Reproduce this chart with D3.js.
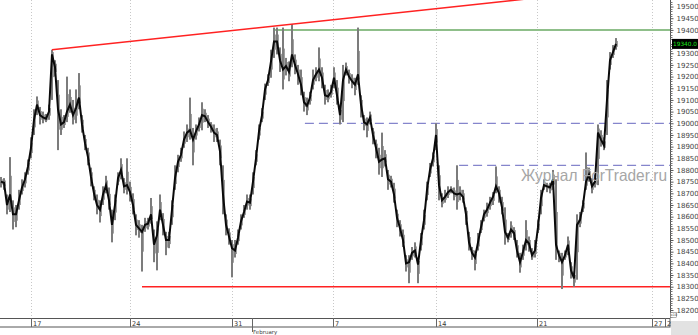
<!DOCTYPE html>
<html>
<head>
<meta charset="utf-8">
<script src="https://cdn.jsdelivr.net/npm/d3@7/dist/d3.min.js"></script>
<style>
  body { margin: 0; background: #fff; }
  svg { display: block; font-family: "DejaVu Sans", sans-serif; }
</style>
</head>
<body>
<svg id="chart" width="698" height="335"></svg>
<script>
// price bars (high / close / low), one bar per slot
const barHigh = [
  18770,18765,18695,18855,18670,18650,18715,18760,18790,18845,18940,19060,19115,19070,19050,19040,19080,19315,19270,19185,
  19060,19035,19200,19145,19100,19145,19215,19035,18950,18895,18810,18730,18695,18670,18730,18775,18725,18630,18695,18790,
  18850,18765,18850,18750,18700,18610,18585,18565,18595,18595,18680,18545,18580,18695,18615,18535,18535,18670,18820,18865,
  18895,18965,18995,19110,18980,18995,19025,19090,19060,19035,19005,18995,18980,18930,18820,18610,18550,18500,18500,18545,
  18610,18650,18695,18695,18790,18885,18995,19065,19170,19210,19315,19410,19410,19325,19410,19280,19265,19425,19295,19250,
  19230,19135,19110,19135,19230,19240,19325,19240,19165,19145,19165,19240,19185,19080,19250,19260,19230,19210,19195,19410,
  19120,19035,19025,19050,18980,18930,18895,18960,18885,18800,18775,18745,18630,18585,18545,18435,18435,18470,18490,18425,
  18530,18630,18750,18830,18875,19000,18820,18700,18715,18730,18730,18725,18820,18730,18715,18640,18535,18470,18455,18530,
  18585,18630,18660,18685,18705,18815,18730,18685,18640,18530,18580,18555,18500,18445,18480,18585,18515,18465,18500,18585,
  18715,18760,18745,18745,18800,18760,18455,18445,18455,18515,18405,18365,18610,18620,18670,18875,18810,18765,18780,18995,
  18970,18940,19185,19305,19335,19365
];
const barClose = [
  18750,18745,18650,18695,18610,18610,18670,18725,18760,18815,18895,19015,19080,19035,19025,19020,19050,19295,19240,19060,
  18995,19005,19050,19080,19035,19065,19110,18995,18915,18855,18770,18700,18650,18630,18695,18735,18670,18565,18650,18765,
  18800,18730,18735,18705,18650,18565,18550,18535,18565,18570,18610,18480,18520,18630,18565,18500,18500,18630,18765,18835,
  18865,18930,18960,18970,18930,18965,18995,19035,19030,19005,18985,18960,18950,18880,18695,18565,18515,18465,18455,18510,
  18580,18620,18665,18660,18750,18850,18965,19035,19145,19185,19265,19350,19350,19270,19230,19245,19220,19295,19250,19210,
  19165,19090,19075,19110,19185,19210,19230,19195,19120,19115,19135,19195,19120,19035,19185,19230,19200,19180,19165,19210,
  19080,19005,18995,19025,18950,18895,18835,18845,18850,18760,18750,18695,18595,18550,18500,18400,18405,18445,18455,18395,
  18500,18585,18715,18800,18850,18950,18735,18670,18685,18705,18715,18700,18695,18700,18685,18610,18490,18445,18425,18490,
  18555,18610,18630,18660,18685,18730,18700,18640,18535,18510,18545,18530,18455,18405,18450,18500,18485,18435,18455,18555,
  18680,18735,18730,18725,18760,18480,18435,18405,18435,18480,18370,18335,18565,18585,18650,18750,18780,18730,18750,18960,
  18930,18905,19100,19270,19305,19340
];
const barLow = [
  18725,18715,18610,18620,18545,18555,18630,18695,18725,18780,18850,18950,19035,18995,19000,19005,19015,19100,19200,18885,
  18950,18980,19005,19045,18995,19000,19060,18960,18885,18820,18730,18670,18610,18575,18650,18700,18630,18490,18585,18735,
  18760,18700,18695,18665,18610,18520,18510,18365,18535,18545,18570,18405,18370,18585,18520,18435,18465,18565,18715,18790,
  18835,18895,18920,18930,18820,18930,18965,18970,19005,18980,18960,18920,18920,18820,18610,18520,18480,18340,18425,18480,
  18545,18595,18630,18630,18695,18820,18930,19005,19100,19160,19195,19280,19295,19220,19145,19205,19180,19240,19210,19165,
  19120,19050,19035,19080,19145,19180,19180,19150,19080,19090,19110,19150,19080,18995,19005,19205,19170,19150,19120,19165,
  19025,18970,18940,18995,18910,18850,18780,18770,18815,18715,18725,18660,18555,18515,18470,18365,18315,18415,18425,18315,
  18455,18545,18670,18770,18815,18885,18670,18640,18660,18680,18700,18670,18630,18670,18660,18565,18455,18415,18370,18455,
  18530,18580,18600,18630,18650,18700,18660,18610,18480,18490,18510,18500,18425,18360,18415,18455,18450,18415,18425,18530,
  18610,18715,18705,18700,18715,18415,18405,18290,18415,18435,18335,18300,18330,18555,18620,18715,18750,18700,18725,18735,
  18900,18885,18950,19230,19280,19315
];

// time axis
const weekTickBars = [9.9, 43, 77.1, 110.8, 144.9, 178.6, 217, 221.3];
const weekTickLabels = ['17', '24', '31', '7', '14', '21', '27', '2'];
const monthTickBars = [83.8];
const monthTickLabels = ['February'];

// price axis
const priceTicks = d3.range(18200, 19501, 50);
const lastPrice = 19340;

// drawn levels: [price, start bar]
const supportLevel = [18300, 47];
const greenLevel = [19400, 91.3];
const dashedLevels = [[19000, 101.3], [18820, 152.7]];
// trend line through two highs: [bar, price]
const trendPoints = [[17, 19315], [97, 19425]];

const W = 698, H = 335;
const plotRight = 670, plotBottom = 318;

const svg = d3.select('#chart');

const x = d3.scaleLinear().domain([0, 223]).range([1, plotRight]);
const y = d3.scaleLinear().domain([18300, 19400]).range([286.7, 29.9]);

svg.append('defs').append('clipPath').attr('id', 'plot')
  .append('rect').attr('x', 0).attr('y', 0).attr('width', plotRight).attr('height', plotBottom);

const plot = svg.append('g').attr('clip-path', 'url(#plot)');

// vertical dotted grid
plot.selectAll('.grid')
  .data(weekTickBars.slice(0, 7))
  .enter().append('line')
  .attr('x1', d => Math.round(x(d)) + 0.5).attr('x2', d => Math.round(x(d)) + 0.5)
  .attr('y1', 0).attr('y2', plotBottom)
  .attr('stroke', '#c8c8c8').attr('stroke-dasharray', '1,2');

// levels
plot.append('line')
  .attr('x1', x(greenLevel[1])).attr('x2', plotRight)
  .attr('y1', y(greenLevel[0])).attr('y2', y(greenLevel[0]))
  .attr('stroke', '#8fbf8a').attr('stroke-width', 2);

plot.selectAll('.dash')
  .data(dashedLevels)
  .enter().append('line')
  .attr('x1', d => x(d[1])).attr('x2', plotRight)
  .attr('y1', d => y(d[0])).attr('y2', d => y(d[0]))
  .attr('stroke', '#8585cc').attr('stroke-width', 1.2).attr('stroke-dasharray', '9,5');

plot.append('line')
  .attr('x1', x(supportLevel[1])).attr('x2', plotRight)
  .attr('y1', y(supportLevel[0])).attr('y2', y(supportLevel[0]))
  .attr('stroke', '#f22').attr('stroke-width', 1.5);

// bars: grey high-low range, black close path
plot.selectAll('.wick')
  .data(barHigh)
  .enter().append('rect')
  .attr('x', (d, i) => x(i) - 1)
  .attr('y', (d, i) => y(d))
  .attr('width', 2)
  .attr('height', (d, i) => Math.max(1, y(barLow[i]) - y(d)))
  .attr('fill', '#7c7c7c');

plot.selectAll('.wick2')
  .data(barHigh)
  .enter().append('line')
  .attr('x1', (d, i) => x(i) + 1.5).attr('x2', (d, i) => x(i) + 1.5)
  .attr('y1', (d, i) => y(Math.max(barClose[i], (barHigh[i] + barClose[i]) / 2)))
  .attr('y2', (d, i) => y(Math.min(barClose[i], (barLow[i] + barClose[i]) / 2)))
  .attr('stroke', '#a0a0a0').attr('stroke-width', 1);

plot.append('path')
  .datum(barClose)
  .attr('d', d3.line().x((d, i) => x(i)).y(d => y(d)))
  .attr('fill', 'none')
  .attr('stroke', '#0a0a0a')
  .attr('stroke-width', 2);

// trend line
const slope = (trendPoints[1][1] - trendPoints[0][1]) / (trendPoints[1][0] - trendPoints[0][0]);
const endBar = 223;
plot.append('line')
  .attr('x1', x(trendPoints[0][0])).attr('y1', y(trendPoints[0][1]))
  .attr('x2', x(endBar)).attr('y2', y(trendPoints[0][1] + slope * (endBar - trendPoints[0][0])))
  .attr('stroke', '#f22').attr('stroke-width', 1.5);

// watermark
svg.append('text')
  .attr('x', 521).attr('y', 181)
  .attr('textLength', 146)
  .attr('lengthAdjust', 'spacingAndGlyphs')
  .style('font-family', '"Liberation Sans", Arial, sans-serif')
  .style('font-size', '16.5px')
  .attr('fill', '#a6a6a6')
  .text('Журнал ForTrader.ru');

// right price axis
const yAxis = svg.append('g')
  .attr('transform', `translate(${plotRight + 0.5},0)`)
  .call(d3.axisRight(y).tickValues(priceTicks.filter(v => Math.abs(v - lastPrice) > 20))
    .tickSize(3).tickPadding(3).tickFormat(d3.format('d')));
yAxis.select('.domain').attr('d', `M0,0V${plotBottom}`).attr('stroke', '#555');
yAxis.selectAll('.tick line').attr('stroke', '#555');
yAxis.selectAll('.tick text')
  .style('font-size', '7px')
  .style('font-family', '"DejaVu Sans", sans-serif')
  .attr('fill', '#444');
yAxis.selectAll('.minor')
  .data(d3.range(18170, 19530, 10).filter(v => v % 50 !== 0))
  .enter().append('line')
  .attr('x1', 0).attr('x2', 2)
  .attr('y1', d => Math.round(y(d)) + 0.5).attr('y2', d => Math.round(y(d)) + 0.5)
  .attr('stroke', '#777');

// last price marker
svg.append('rect')
  .attr('x', 672).attr('y', y(lastPrice) - 5)
  .attr('width', 26).attr('height', 10)
  .attr('fill', '#000');
svg.append('text')
  .attr('x', 673).attr('y', y(lastPrice) + 2.3)
  .style('font-size', '5.8px')
  .attr('fill', '#19e619')
  .text(d3.format('.1f')(lastPrice));

// time axis band
const band = svg.append('g');
band.append('rect')
  .attr('x', -1).attr('y', plotBottom + 0.5)
  .attr('width', plotRight + 1).attr('height', 8.5)
  .attr('fill', '#fff').attr('stroke', '#555');
band.selectAll('.wt')
  .data(weekTickBars)
  .enter().append('line')
  .attr('x1', d => Math.round(x(d)) + 0.5).attr('x2', d => Math.round(x(d)) + 0.5)
  .attr('y1', plotBottom).attr('y2', plotBottom + 9)
  .attr('stroke', '#666');
band.selectAll('.wl')
  .data(weekTickLabels)
  .enter().append('text')
  .attr('x', (d, i) => Math.round(x(weekTickBars[i])) + 2)
  .attr('y', plotBottom + 7.5)
  .style('font-size', '6.5px')
  .attr('fill', '#333')
  .text(d => d);
band.selectAll('.mt')
  .data(monthTickBars)
  .enter().append('line')
  .attr('x1', d => Math.round(x(d)) + 0.5).attr('x2', d => Math.round(x(d)) + 0.5)
  .attr('y1', plotBottom).attr('y2', plotBottom + 14)
  .attr('stroke', '#666');
band.selectAll('.ml')
  .data(monthTickLabels)
  .enter().append('text')
  .attr('x', (d, i) => Math.round(x(monthTickBars[i])) + 1)
  .attr('y', H - 1)
  .style('font-size', '5.5px')
  .attr('fill', '#444')
  .text(d => d);

// corner widgets
svg.append('rect')
  .attr('x', 671).attr('y', 321).attr('width', 27).attr('height', 14)
  .attr('fill', '#e2e2e2');
svg.append('rect')
  .attr('x', 670.3).attr('y', 312.5).attr('width', 6).attr('height', 5)
  .attr('fill', '#fff').attr('stroke', '#666').attr('stroke-width', 0.5);
svg.append('text')
  .attr('x', 670.8).attr('y', 316.4)
  .style('font-size', '3.4px')
  .attr('fill', '#333')
  .text('x10');
</script>
</body>
</html>
